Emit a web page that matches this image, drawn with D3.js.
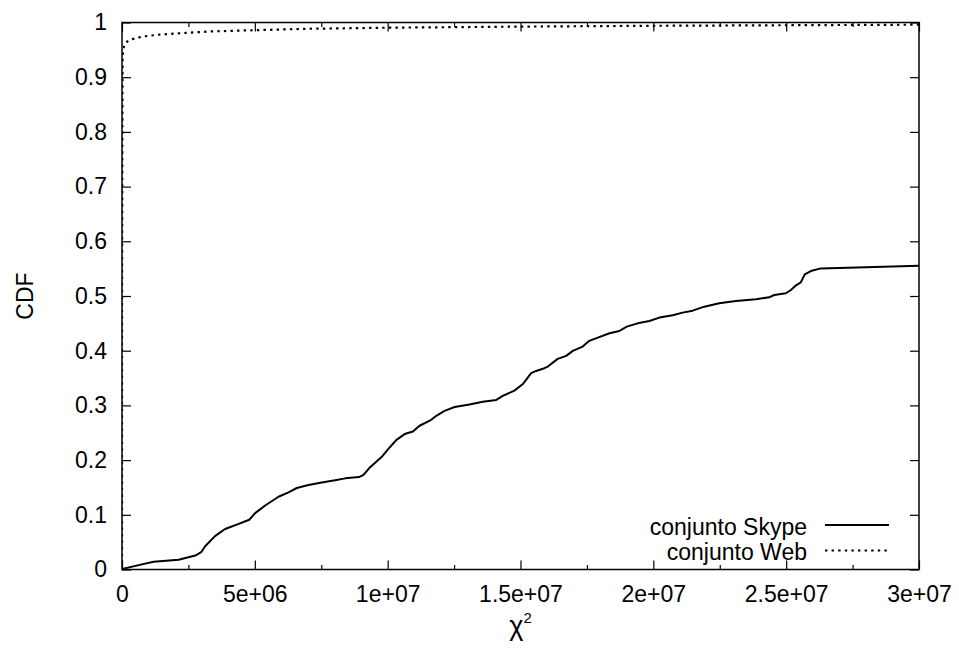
<!DOCTYPE html>
<html>
<head>
<meta charset="utf-8">
<script src="https://cdn.jsdelivr.net/npm/d3@7"></script>
<style>
  html, body { margin: 0; padding: 0; background: #fff; }
  svg { display: block; font-family: "Liberation Sans", Arial, Helvetica, sans-serif; }
</style>
</head>
<body>
<svg id="chart" width="959" height="649"></svg>
<script>
// Empirical CDF of the chi-square statistic for the two traffic sets.
// x values in units of the statistic, y = cumulative fraction.
const skypeX = [0, 0.63e6, 1.19e6, 2.13e6, 2.76e6, 2.98e6, 3.13e6, 3.5e6, 3.88e6, 4.32e6,
  4.79e6, 5.01e6, 5.39e6, 5.89e6, 6.27e6, 6.58e6, 7.02e6, 7.52e6, 8.02e6, 8.4e6,
  8.92e6, 9.09e6, 9.34e6, 9.77e6, 10.09e6, 10.33e6, 10.64e6, 10.95e6, 11.2e6, 11.64e6,
  11.83e6, 12.14e6, 12.52e6, 13.08e6, 13.58e6, 14.09e6, 14.33e6, 14.77e6, 15.09e6, 15.4e6,
  15.59e6, 15.9e6, 16.03e6, 16.4e6, 16.72e6, 16.97e6, 17.34e6, 17.59e6, 17.91e6, 18.35e6,
  18.72e6, 19.0e6, 19.41e6, 19.85e6, 20.23e6, 20.73e6, 21.1e6, 21.48e6, 21.92e6, 22.48e6,
  23.11e6, 23.86e6, 24.36e6, 24.55e6, 24.99e6, 25.18e6, 25.36e6, 25.55e6, 25.7e6, 25.93e6,
  26.3e6, 26.99e6, 30.0e6];
const skypeY = [0.001, 0.008, 0.014, 0.018, 0.0255, 0.0316, 0.0426, 0.061, 0.074, 0.082,
  0.091, 0.103, 0.117, 0.133, 0.141, 0.149, 0.1545, 0.159, 0.163, 0.1666,
  0.169, 0.173, 0.187, 0.2056, 0.224, 0.237, 0.2476, 0.2524, 0.2628, 0.2737,
  0.281, 0.290, 0.297, 0.3017, 0.3066, 0.310, 0.3175, 0.327, 0.339, 0.359,
  0.363, 0.368, 0.371, 0.385, 0.3905, 0.3996, 0.4075, 0.418, 0.424, 0.432,
  0.436, 0.444, 0.450, 0.4544, 0.4605, 0.4647, 0.4696, 0.4732, 0.4805, 0.4866,
  0.4909, 0.494, 0.4976, 0.5018, 0.505, 0.511, 0.519, 0.525, 0.5396, 0.5456,
  0.5505, 0.551, 0.5555];

const webX = [0, 0, 0.02e6, 0.05e6, 0.11e6, 0.24e6, 0.42e6, 0.8e6, 1.43e6, 2.06e6,
  3.3e6, 4.56e6, 5.82e6, 6.94e6, 10e6, 15e6, 20e6, 25e6, 30e6];
const webY = [0, 0.5, 0.93, 0.952, 0.961, 0.967, 0.970, 0.9745, 0.978, 0.980,
  0.9836, 0.9854, 0.987, 0.9885, 0.9905, 0.9925, 0.994, 0.995, 0.996];

const seriesNames = ["conjunto Skype", "conjunto Web"];

const xTicks = [0, 5e6, 1e7, 1.5e7, 2e7, 2.5e7, 3e7];
const xTickLabels = ["0", "5e+06", "1e+07", "1.5e+07", "2e+07", "2.5e+07", "3e+07"];
const xMinorTicks = [2.5e6, 7.5e6, 12.5e6, 17.5e6, 22.5e6, 27.5e6];
const yTicks = [0, 0.1, 0.2, 0.3, 0.4, 0.5, 0.6, 0.7, 0.8, 0.9, 1];
const yTickLabels = ["0", "0.1", "0.2", "0.3", "0.4", "0.5", "0.6", "0.7", "0.8", "0.9", "1"];

const svg = d3.select("#chart");
const margin = { left: 122, right: 40, top: 22.5, bottom: 79.5 };
const W = 959, H = 649;
const x0 = margin.left, x1 = W - margin.right;
const y0 = H - margin.bottom, y1 = margin.top;

const x = d3.scaleLinear().domain([0, 3e7]).range([x0, x1]);
const y = d3.scaleLinear().domain([0, 1]).range([y0, y1]);

const FS = 23;
const DOTS = "2.4,4.2";

svg.append("defs").append("clipPath").attr("id", "plotClip")
  .append("rect").attr("x", x0).attr("y", y1 - 2)
  .attr("width", x1 - x0).attr("height", y0 - y1 + 2);

function styleAxis(g) {
  g.select(".domain").remove();
  g.selectAll(".tick line").attr("stroke", "#000").attr("stroke-width", 1.2);
  g.selectAll(".tick text").attr("fill", "#000").style("font-size", FS + "px");
}

// bottom axis with labels, ticks pointing inward
svg.append("g").attr("transform", `translate(0,${y0})`)
  .call(d3.axisBottom(x).tickValues(xTicks).tickSize(-9).tickPadding(16)
    .tickFormat((d, i) => xTickLabels[i]))
  .call(styleAxis);
svg.append("g").attr("transform", `translate(0,${y0})`)
  .call(d3.axisBottom(x).tickValues(xMinorTicks).tickSize(-4.5).tickFormat(""))
  .call(styleAxis);
// top mirror ticks
svg.append("g").attr("transform", `translate(0,${y1})`)
  .call(d3.axisTop(x).tickValues(xTicks).tickSize(-9).tickFormat(""))
  .call(styleAxis);
svg.append("g").attr("transform", `translate(0,${y1})`)
  .call(d3.axisTop(x).tickValues(xMinorTicks).tickSize(-4.5).tickFormat(""))
  .call(styleAxis);
// left axis with labels
svg.append("g").attr("transform", `translate(${x0},0)`)
  .call(d3.axisLeft(y).tickValues(yTicks).tickSize(-9).tickPadding(15)
    .tickFormat((d, i) => yTickLabels[i]))
  .call(styleAxis);
// right mirror ticks
svg.append("g").attr("transform", `translate(${x1},0)`)
  .call(d3.axisRight(y).tickValues(yTicks).tickSize(-9).tickFormat(""))
  .call(styleAxis);

// frame
svg.append("rect").attr("x", x0).attr("y", y1)
  .attr("width", x1 - x0).attr("height", y0 - y1)
  .attr("fill", "none").attr("stroke", "#000").attr("stroke-width", 1.5);

const line = d3.line().x(d => x(d[0])).y(d => y(d[1]));
const skype = d3.zip(skypeX, skypeY);
const web = d3.zip(webX, webY);

const plot = svg.append("g").attr("clip-path", "url(#plotClip)");
plot.append("path").datum(skype).attr("d", line)
  .attr("fill", "none").attr("stroke", "#000").attr("stroke-width", 2)
  .attr("stroke-linejoin", "round");
plot.append("path").datum(web).attr("d", line)
  .attr("fill", "none").attr("stroke", "#000").attr("stroke-width", 2.2)
  .attr("stroke-dasharray", DOTS);

// axis titles
const xl = svg.append("text").attr("x", (x0 + x1) / 2).attr("y", 635)
  .attr("text-anchor", "middle").attr("fill", "#000");
xl.append("tspan").style("font-size", "27px").text("χ");
xl.append("tspan").attr("dy", -12).style("font-size", "15px").text("2");

svg.append("text").attr("transform", `translate(33,${(y0 + y1) / 2}) rotate(-90)`)
  .attr("text-anchor", "middle").style("font-size", FS + "px").attr("fill", "#000")
  .text("CDF");

// legend
const legend = svg.append("g");
const legRows = [
  { name: seriesNames[0], dash: null, yText: 535, yLine: 525 },
  { name: seriesNames[1], dash: DOTS, yText: 560, yLine: 550.5 }
];
legRows.forEach(r => {
  legend.append("text").attr("x", 807).attr("y", r.yText)
    .attr("text-anchor", "end").style("font-size", FS + "px").attr("fill", "#000")
    .text(r.name);
  legend.append("line").attr("x1", 825).attr("x2", 889)
    .attr("y1", r.yLine).attr("y2", r.yLine)
    .attr("stroke", "#000").attr("stroke-width", r.dash ? 2.2 : 2)
    .attr("stroke-dasharray", r.dash);
});
</script>
</body>
</html>
